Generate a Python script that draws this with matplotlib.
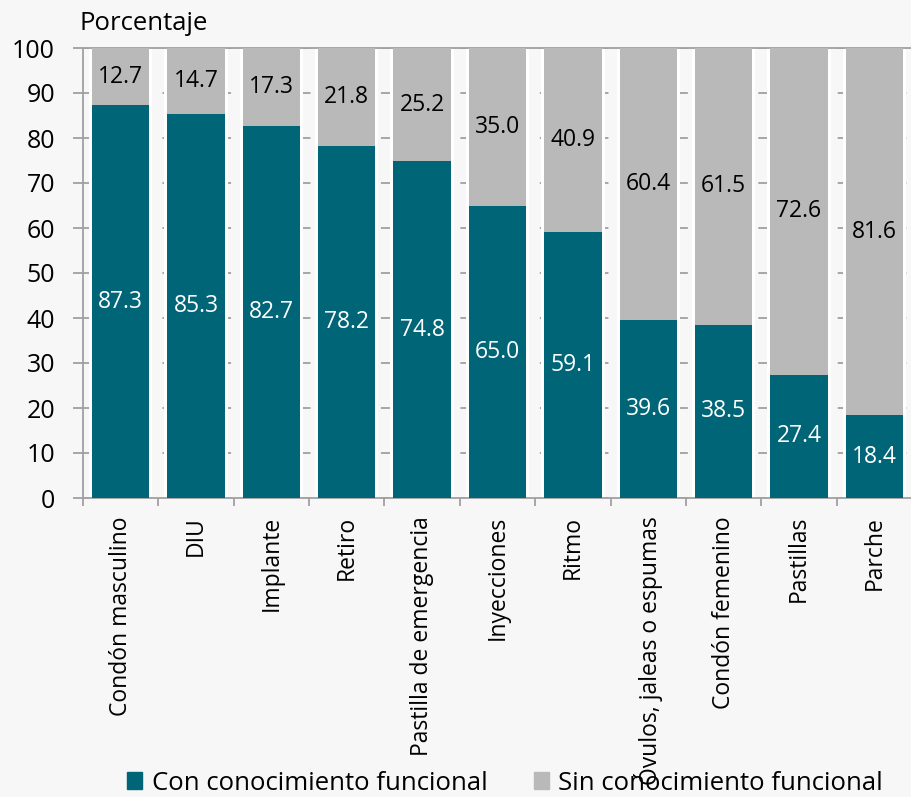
import numpy as np
import matplotlib.pyplot as plt
from matplotlib.patches import Patch

plt.rcParams['font.family'] = ['Open Sans', 'DejaVu Sans']

metodos = ["Condón masculino", "DIU", "Implante", "Retiro", "Pastilla de emergencia",
           "Inyecciones", "Ritmo", "Óvulos, jaleas o espumas", "Condón femenino",
           "Pastillas", "Parche"]
con_conoc = [87.3, 85.3, 82.7, 78.2, 74.8, 65.0, 59.1, 39.6, 38.5, 27.4, 18.4]
sin_conoc = [12.7, 14.7, 17.3, 21.8, 25.2, 35.0, 40.9, 60.4, 61.5, 72.6, 81.6]

teal = "#006576"
gris = "#b9b9b9"
fondo = "#f7f7f7"
linea = "#a0a0a0"

fig = plt.figure(figsize=(9.12, 7.97), dpi=100, facecolor=fondo)
ax = fig.add_axes([83 / 912, 1 - 498 / 797, 1 - 83 / 912, 450 / 797])
ax.set_facecolor(fondo)

x = np.arange(len(metodos))
# franja blanca alrededor de cada barra
ax.bar(x, 100, width=0.84, color="white", linewidth=0, zorder=2)
ax.bar(x, con_conoc, width=0.76, color=teal, linewidth=0, zorder=3)
ax.bar(x, sin_conoc, width=0.76, bottom=con_conoc, color=gris, linewidth=0, zorder=3)

for i in range(len(metodos)):
    ax.text(x[i], con_conoc[i] / 2, f"{con_conoc[i]:.1f}", ha="center", va="center",
            color="white", fontsize=16.5, zorder=4)
    ax.text(x[i], con_conoc[i] + sin_conoc[i] / 2, f"{sin_conoc[i]:.1f}", ha="center",
            va="center", color="black", fontsize=16.5, zorder=4)

ax.set_ylim(0, 100)
ax.set_xlim(-0.5, (912 - 83) / 76.5 - 0.5)
ax.set_yticks(np.arange(0, 101, 10))
ax.tick_params(axis="y", labelsize=18, length=7.2, color=linea, width=1.3, pad=13)
ax.yaxis.grid(True, linestyle=(0, (5, 6)), color=linea, linewidth=1.3, zorder=0)

ax.set_xticks(x)
ax.set_xticklabels(metodos, rotation=90, fontsize=16.5, va="top")
ax.tick_params(axis="x", which="major", length=0, pad=13)
ax.set_xticks(np.arange(-0.5, len(metodos), 1), minor=True)
ax.tick_params(axis="x", which="minor", length=6, color=linea, width=1.3)

ax.spines["right"].set_visible(False)
for s in ["left", "bottom", "top"]:
    ax.spines[s].set_color(linea)
    ax.spines[s].set_linewidth(1.3)

fig.text(80 / 912, 1 - 30 / 797, "Porcentaje", fontsize=18.5, va="baseline", ha="left")

handles = [Patch(color=teal, label="Con conocimiento funcional"),
           Patch(color=gris, label="Sin conocimiento funcional")]
fig.legend(handles=handles, loc="center", bbox_to_anchor=(505 / 912, 1 - 783 / 797), ncol=2,
           frameon=False, fontsize=18.5, handlelength=0.6, handleheight=0.6,
           handletextpad=0.36, columnspacing=1.8, borderpad=0, borderaxespad=0)

fig.savefig("out.png", dpi=100, facecolor=fondo)
